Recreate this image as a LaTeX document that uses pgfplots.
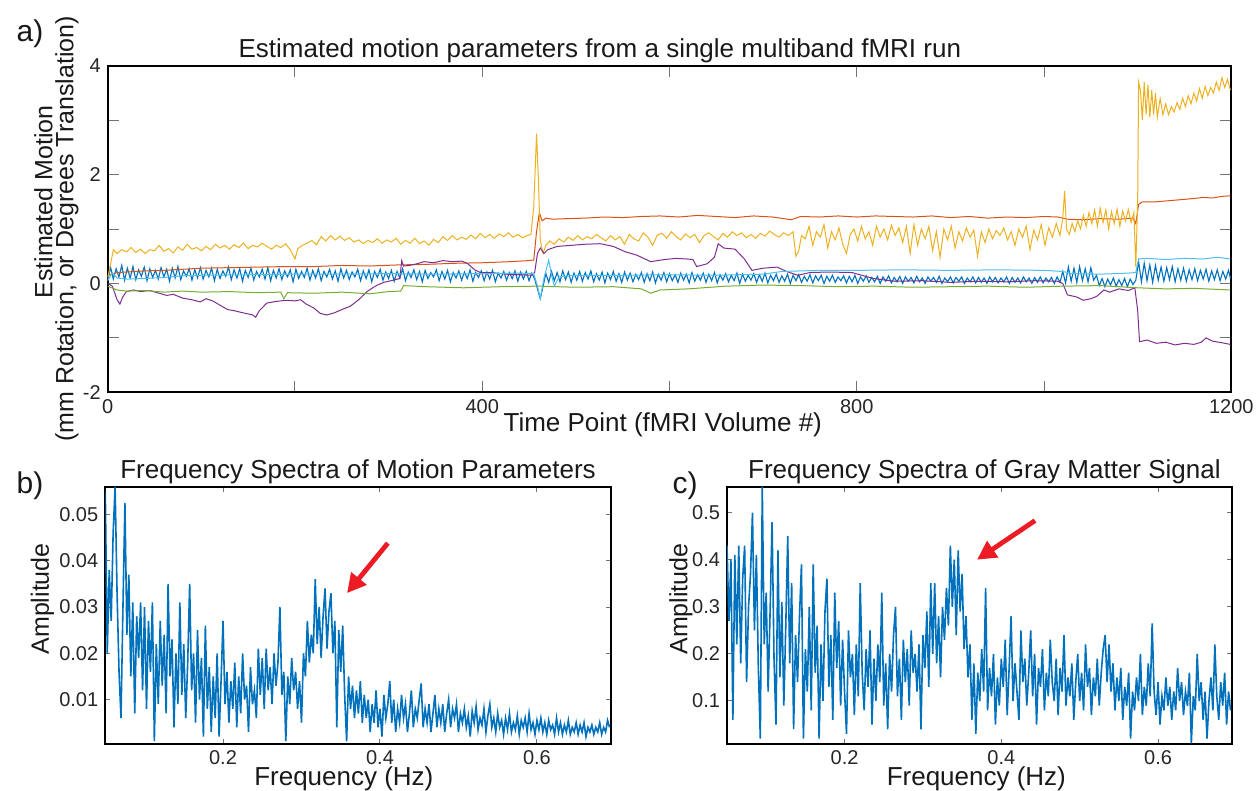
\documentclass[border=0pt]{standalone}
\usepackage{pgfplots}
\usepackage{pgfplotstable}
\pgfplotsset{compat=1.18}
\usepackage{fontspec}
\setmainfont{Liberation Sans}
\usetikzlibrary{arrows.meta}
\definecolor{mblue}{HTML}{0072BD}
\definecolor{mred}{HTML}{D95319}
\definecolor{myellow}{HTML}{EDB120}
\definecolor{mpurple}{HTML}{7E2F8E}
\definecolor{mgreen}{HTML}{77AC30}
\definecolor{mcyan}{HTML}{4DBEEE}
\definecolor{arrowred}{RGB}{237,28,36}

\pgfplotstableread{
f a
0.0500 0.0550
0.0525 0.0200
0.0550 0.0380
0.0575 0.0270
0.0600 0.0460
0.0625 0.0560
0.0650 0.0330
0.0675 0.0160
0.0700 0.0060
0.0725 0.0300
0.0750 0.0525
0.0775 0.0240
0.0800 0.0370
0.0825 0.0150
0.0850 0.0310
0.0875 0.0070
0.0900 0.0280
0.0925 0.0190
0.0950 0.0310
0.0975 0.0120
0.1000 0.0300
0.1025 0.0080
0.1050 0.0270
0.1075 0.0160
0.1100 0.0310
0.1125 0.0010
0.1150 0.0220
0.1175 0.0090
0.1200 0.0270
0.1225 0.0130
0.1250 0.0240
0.1275 0.0070
0.1300 0.0350
0.1325 0.0150
0.1350 0.0230
0.1375 0.0040
0.1400 0.0200
0.1425 0.0090
0.1450 0.0310
0.1475 0.0110
0.1500 0.0220
0.1525 0.0060
0.1550 0.0180
0.1575 0.0350
0.1600 0.0120
0.1625 0.0200
0.1650 0.0050
0.1675 0.0250
0.1700 0.0100
0.1725 0.0190
0.1750 0.0020
0.1775 0.0260
0.1800 0.0080
0.1825 0.0170
0.1850 0.0030
0.1875 0.0150
0.1900 0.0060
0.1925 0.0200
0.1950 0.0020
0.1975 0.0140
0.2000 0.0270
0.2025 0.0090
0.2050 0.0160
0.2075 0.0050
0.2100 0.0140
0.2125 0.0080
0.2150 0.0180
0.2175 0.0040
0.2200 0.0150
0.2225 0.0070
0.2250 0.0200
0.2275 0.0100
0.2300 0.0130
0.2325 0.0030
0.2350 0.0170
0.2375 0.0090
0.2400 0.0120
0.2425 0.0060
0.2450 0.0210
0.2475 0.0110
0.2500 0.0190
0.2525 0.0080
0.2550 0.0210
0.2575 0.0120
0.2600 0.0170
0.2625 0.0090
0.2650 0.0200
0.2675 0.0130
0.2700 0.0180
0.2725 0.0300
0.2750 0.0110
0.2775 0.0160
0.2800 0.0010
0.2825 0.0150
0.2850 0.0090
0.2875 0.0190
0.2900 0.0120
0.2925 0.0160
0.2950 0.0080
0.2975 0.0140
0.3000 0.0050
0.3025 0.0200
0.3050 0.0150
0.3075 0.0270
0.3100 0.0180
0.3125 0.0240
0.3150 0.0200
0.3175 0.0360
0.3200 0.0220
0.3225 0.0300
0.3250 0.0190
0.3275 0.0280
0.3300 0.0340
0.3325 0.0210
0.3350 0.0290
0.3375 0.0330
0.3400 0.0200
0.3425 0.0270
0.3450 0.0040
0.3475 0.0250
0.3500 0.0160
0.3525 0.0260
0.3550 0.0110
0.3575 0.0010
0.3600 0.0150
0.3625 0.0080
0.3650 0.0130
0.3675 0.0060
0.3700 0.0120
0.3725 0.0070
0.3750 0.0140
0.3775 0.0050
0.3800 0.0110
0.3825 0.0060
0.3850 0.0100
0.3875 0.0030
0.3900 0.0090
0.3925 0.0050
0.3950 0.0120
0.3975 0.0040
0.4000 0.0080
0.4025 0.0020
0.4050 0.0110
0.4075 0.0060
0.4100 0.0090
0.4125 0.0140
0.4150 0.0050
0.4175 0.0100
0.4200 0.0030
0.4225 0.0080
0.4250 0.0050
0.4275 0.0110
0.4300 0.0060
0.4325 0.0090
0.4350 0.0030
0.4375 0.0070
0.4400 0.0120
0.4425 0.0040
0.4450 0.0080
0.4475 0.0060
0.4500 0.0100
0.4525 0.0135
0.4550 0.0040
0.4575 0.0080
0.4600 0.0050
0.4625 0.0090
0.4650 0.0030
0.4675 0.0070
0.4700 0.0110
0.4725 0.0040
0.4750 0.0080
0.4775 0.0050
0.4800 0.0090
0.4825 0.0030
0.4850 0.0070
0.4875 0.0100
0.4900 0.0040
0.4925 0.0080
0.4950 0.0060
0.4975 0.0090
0.5000 0.0030
0.5025 0.0070
0.5050 0.0050
0.5075 0.0080
0.5100 0.0040
0.5125 0.0065
0.5150 0.0020
0.5175 0.0075
0.5200 0.0050
0.5225 0.0085
0.5250 0.0035
0.5275 0.0060
0.5300 0.0045
0.5325 0.0080
0.5350 0.0030
0.5375 0.0065
0.5400 0.0090
0.5425 0.0040
0.5450 0.0060
0.5475 0.0030
0.5500 0.0070
0.5525 0.0040
0.5550 0.0055
0.5575 0.0025
0.5600 0.0060
0.5625 0.0035
0.5650 0.0070
0.5675 0.0030
0.5700 0.0050
0.5725 0.0035
0.5750 0.0065
0.5775 0.0025
0.5800 0.0055
0.5825 0.0040
0.5850 0.0060
0.5875 0.0030
0.5900 0.0070
0.5925 0.0035
0.5950 0.0050
0.5975 0.0025
0.6000 0.0055
0.6025 0.0035
0.6050 0.0060
0.6075 0.0030
0.6100 0.0050
0.6125 0.0025
0.6150 0.0055
0.6175 0.0035
0.6200 0.0045
0.6225 0.0025
0.6250 0.0060
0.6275 0.0030
0.6300 0.0050
0.6325 0.0025
0.6350 0.0045
0.6375 0.0030
0.6400 0.0055
0.6425 0.0025
0.6450 0.0040
0.6475 0.0030
0.6500 0.0050
0.6525 0.0025
0.6550 0.0045
0.6575 0.0030
0.6600 0.0050
0.6625 0.0020
0.6650 0.0040
0.6675 0.0030
0.6700 0.0045
0.6725 0.0025
0.6750 0.0040
0.6775 0.0030
0.6800 0.0050
0.6825 0.0025
0.6850 0.0040
0.6875 0.0030
0.6900 0.0055
0.6925 0.0040
}\specb

\pgfplotstableread{
f a
0.0500 0.43
0.0525 0.27
0.0550 0.40
0.0575 0.06
0.0600 0.41
0.0625 0.22
0.0650 0.43
0.0675 0.18
0.0700 0.36
0.0725 0.43
0.0750 0.14
0.0775 0.30
0.0800 0.37
0.0825 0.50
0.0850 0.25
0.0875 0.41
0.0900 0.17
0.0925 0.02
0.0950 0.555
0.0975 0.22
0.1000 0.33
0.1025 0.12
0.1050 0.29
0.1075 0.48
0.1100 0.19
0.1125 0.05
0.1150 0.42
0.1175 0.15
0.1200 0.31
0.1225 0.09
0.1250 0.26
0.1275 0.45
0.1300 0.18
0.1325 0.35
0.1350 0.04
0.1375 0.24
0.1400 0.14
0.1425 0.28
0.1450 0.39
0.1475 0.02
0.1500 0.21
0.1525 0.12
0.1550 0.30
0.1575 0.08
0.1600 0.39
0.1625 0.16
0.1650 0.26
0.1675 0.02
0.1700 0.22
0.1725 0.10
0.1750 0.29
0.1775 0.36
0.1800 0.13
0.1825 0.24
0.1850 0.06
0.1875 0.33
0.1900 0.17
0.1925 0.27
0.1950 0.09
0.1975 0.23
0.2000 0.12
0.2025 0.03
0.2050 0.25
0.2075 0.15
0.2100 0.20
0.2125 0.07
0.2150 0.22
0.2175 0.11
0.2200 0.35
0.2225 0.16
0.2250 0.08
0.2275 0.21
0.2300 0.13
0.2325 0.25
0.2350 0.05
0.2375 0.19
0.2400 0.10
0.2425 0.22
0.2450 0.14
0.2475 0.33
0.2500 0.09
0.2525 0.18
0.2550 0.04
0.2575 0.20
0.2600 0.12
0.2625 0.24
0.2650 0.30
0.2675 0.11
0.2700 0.19
0.2725 0.06
0.2750 0.23
0.2775 0.14
0.2800 0.21
0.2825 0.09
0.2850 0.25
0.2875 0.16
0.2900 0.20
0.2925 0.12
0.2950 0.22
0.2975 0.04
0.3000 0.24
0.3025 0.17
0.3050 0.29
0.3075 0.13
0.3100 0.35
0.3125 0.20
0.3150 0.35
0.3175 0.18
0.3200 0.28
0.3225 0.15
0.3250 0.30
0.3275 0.23
0.3300 0.34
0.3325 0.26
0.3350 0.43
0.3375 0.30
0.3400 0.40
0.3425 0.24
0.3450 0.42
0.3475 0.29
0.3500 0.37
0.3525 0.21
0.3550 0.28
0.3575 0.15
0.3600 0.22
0.3625 0.06
0.3650 0.18
0.3675 0.03
0.3700 0.16
0.3725 0.10
0.3750 0.21
0.3775 0.12
0.3800 0.34
0.3825 0.08
0.3850 0.17
0.3875 0.11
0.3900 0.20
0.3925 0.05
0.3950 0.15
0.3975 0.09
0.4000 0.19
0.4025 0.13
0.4050 0.23
0.4075 0.07
0.4100 0.17
0.4125 0.28
0.4150 0.10
0.4175 0.18
0.4200 0.12
0.4225 0.06
0.4250 0.25
0.4275 0.14
0.4300 0.19
0.4325 0.09
0.4350 0.16
0.4375 0.25
0.4400 0.11
0.4425 0.20
0.4450 0.05
0.4475 0.17
0.4500 0.13
0.4525 0.21
0.4550 0.08
0.4575 0.16
0.4600 0.11
0.4625 0.23
0.4650 0.14
0.4675 0.10
0.4700 0.19
0.4725 0.07
0.4750 0.17
0.4775 0.12
0.4800 0.24
0.4825 0.09
0.4850 0.15
0.4875 0.11
0.4900 0.18
0.4925 0.06
0.4950 0.14
0.4975 0.20
0.5000 0.10
0.5025 0.16
0.5050 0.08
0.5075 0.22
0.5100 0.13
0.5125 0.17
0.5150 0.07
0.5175 0.15
0.5200 0.11
0.5225 0.19
0.5250 0.09
0.5275 0.16
0.5300 0.21
0.5325 0.24
0.5350 0.14
0.5375 0.22
0.5400 0.12
0.5425 0.18
0.5450 0.08
0.5475 0.15
0.5500 0.10
0.5525 0.17
0.5550 0.06
0.5575 0.13
0.5600 0.09
0.5625 0.16
0.5650 0.02
0.5675 0.12
0.5700 0.08
0.5725 0.15
0.5750 0.10
0.5775 0.20
0.5800 0.07
0.5825 0.13
0.5850 0.09
0.5875 0.18
0.5900 0.11
0.5925 0.265
0.5950 0.12
0.5975 0.07
0.6000 0.14
0.6025 0.05
0.6050 0.11
0.6075 0.08
0.6100 0.15
0.6125 0.09
0.6150 0.13
0.6175 0.06
0.6200 0.12
0.6225 0.08
0.6250 0.17
0.6275 0.10
0.6300 0.14
0.6325 0.07
0.6350 0.12
0.6375 0.09
0.6400 0.16
0.6425 0.01
0.6450 0.11
0.6475 0.08
0.6500 0.20
0.6525 0.10
0.6550 0.14
0.6575 0.06
0.6600 0.12
0.6625 0.02
0.6650 0.10
0.6675 0.15
0.6700 0.08
0.6725 0.22
0.6750 0.11
0.6775 0.06
0.6800 0.14
0.6825 0.09
0.6850 0.16
0.6875 0.05
0.6900 0.12
0.6925 0.08
}\specc

\pgfplotsset{
  every axis title shift=0pt,
  myax/.style={
    scale only axis,
    scaled ticks=false,
    axis line style={black, line width=0.9pt},
    tick align=inside,
    tick style={black!55, line width=0.5pt},
    ticklabel style={font=\fontsize{10}{12}\selectfont, text=black!85},
    label style={font=\fontsize{12.5}{14}\selectfont, text=black!90},
    title style={font=\fontsize{12.5}{14}\selectfont, text=black!90},
    /pgf/number format/assume math mode=true,
  },
  specax/.style={
    xticklabel style={inner sep=0pt, yshift=-2.9pt},
    xlabel style={inner sep=0pt, yshift=-17.4pt, anchor=center, font=\fontsize{13}{15}\selectfont},
  },
}

\begin{document}
\begin{tikzpicture}
\useasboundingbox (0pt,0pt) rectangle (630pt,-395.5pt);

% ---------------- panel a ----------------
\begin{axis}[myax,
  at={(53.85pt,-196.15pt)}, anchor=south west,
  width=561.8pt, height=163.3pt,
  xmin=0, xmax=1200, ymin=-2, ymax=4,
  xtick={0,200,...,1200}, xticklabels={0,,400,,800,,1200},
  ytick={-2,-1,...,4}, yticklabels={-2,,0,,2,,4},
  major tick length=5.5pt,
  title={Estimated motion parameters from a single multiband fMRI run},
  title style={at={(axis description cs:0.438,1)}, anchor=base, yshift=4.3pt, font=\fontsize{13}{15}\selectfont},
  xlabel={Time Point (fMRI Volume \#)},
  xlabel style={at={(axis description cs:0.494,0)}, anchor=center, yshift=-16.3pt, font=\fontsize{13}{15}\selectfont},
  ylabel={\hspace*{27pt}Estimated Motion\\(mm Rotation, or Degrees Translation)},
  ylabel style={at={(axis description cs:0,0.5)}, anchor=center, yshift=25.6pt, align=center, font=\fontsize{12.5}{10.5}\selectfont},
  every axis plot/.append style={line width=0.5pt},
]
\addplot[mblue, line width=0.55pt] coordinates {
(0,0.05)(3,0.30)(6,0.08)(9,0.27)(12,0.12)(15,0.33)(18,0.06)(21,0.28)(24,0.10)(27,0.31)(30,0.07)(33,0.25)(36,0.13)(39,0.30)(42,0.05)(45,0.27)(48,0.11)(51,0.24)(54,0.08)(57,0.29)(60,0.12)(63,0.26)(66,0.04)(69,0.28)(72,0.10)(75,0.31)(78,0.07)(81,0.23)(84,0.13)(87,0.27)(90,0.06)(93,0.25)(96,0.10)(99,0.29)(102,0.08)(105,0.24)(108,0.12)(111,0.28)(114,0.05)(117,0.26)(120,0.09)(123,0.23)(126,0.13)(129,0.30)(132,0.07)(135,0.25)(138,0.10)(141,0.27)(144,0.04)(147,0.24)(150,0.11)(153,0.28)(156,0.06)(159,0.22)(162,0.12)(165,0.26)(168,0.08)(171,0.29)(174,0.05)(177,0.24)(180,0.10)(183,0.27)(186,0.07)(189,0.23)(192,0.12)(195,0.25)(198,0.03)(201,0.26)(204,0.09)(207,0.22)(210,0.11)(213,0.28)(216,0.06)(219,0.24)(222,0.10)(225,0.27)(228,0.05)(231,0.22)(234,0.12)(237,0.26)(240,0.08)(243,0.23)(246,0.04)(249,0.27)(252,0.10)(255,0.24)(258,0.07)(261,0.21)(264,0.12)(267,0.26)(270,0.05)(273,0.23)(276,0.09)(279,0.25)(282,0.03)(285,0.22)(288,0.11)(291,0.26)(294,0.06)(297,0.21)(300,0.09)(303,0.24)(306,0.04)(309,0.22)(312,0.10)(315,0.27)(318,0.05)(321,0.21)(324,0.11)(327,0.25)(330,0.07)(333,0.22)(336,0.03)(339,0.24)(342,0.09)(345,0.20)(348,0.12)(351,0.25)(354,0.05)(357,0.22)(360,0.08)(363,0.24)(366,0.03)(369,0.20)(372,0.10)(375,0.23)(378,0.06)(381,0.21)(384,0.09)(387,0.25)(390,0.04)(393,0.20)(396,0.11)(399,0.23)(402,0.05)(405,0.21)(408,0.08)(411,0.24)(414,0.03)(417,0.19)(420,0.10)(423,0.22)(426,0.06)(429,0.20)(432,0.09)(435,0.23)(438,0.04)(441,0.21)(444,0.08)(447,0.22)(450,0.05)(453,0.19)(456,0.08)(459,-0.10)(462,-0.28)(465,-0.05)(468,0.18)(471,0.02)(474,0.22)(477,0.05)(480,0.20)(483,0.03)(486,0.23)(489,0.07)(492,0.21)(495,0.02)(498,0.19)(501,0.06)(504,0.22)(507,0.04)(510,0.20)(513,0.08)(516,0.23)(519,0.03)(522,0.18)(525,0.06)(528,0.21)(531,0.01)(534,0.19)(537,0.07)(540,0.22)(543,0.04)(546,0.18)(549,0.02)(552,0.21)(555,0.06)(558,0.19)(561,0.03)(564,0.17)(567,0.07)(570,0.20)(573,0.02)(576,0.18)(579,0.05)(582,0.21)(585,0.01)(588,0.17)(591,0.06)(594,0.20)(597,0.03)(600,0.18)(603,0.05)(606,0.16)(609,0.02)(612,0.19)(615,0.06)(618,0.17)(621,0.01)(624,0.20)(627,0.04)(630,0.16)(633,0.06)(636,0.19)(639,0.02)(642,0.17)(645,0.05)(648,0.20)(651,0.01)(654,0.16)(657,0.06)(660,0.18)(663,0.03)(666,0.15)(669,0.05)(672,0.19)(675,0.00)(678,0.17)(681,0.04)(684,0.15)(687,0.06)(690,0.18)(693,0.02)(696,0.16)(699,0.04)(702,0.19)(705,0.01)(708,0.15)(711,0.05)(714,0.17)(717,0.02)(720,0.14)(723,0.04)(726,0.17)(729,0.00)(732,0.15)(735,0.05)(738,0.16)(741,0.02)(744,0.13)(747,0.04)(750,0.16)(753,0.01)(756,0.14)(759,0.05)(762,0.15)(765,0.00)(768,0.13)(771,0.04)(774,0.15)(777,0.02)(780,0.12)(783,0.05)(786,0.14)(789,0.01)(792,0.13)(795,0.03)(798,0.15)(801,0.00)(804,0.12)(807,0.04)(810,0.14)(813,0.02)(816,0.11)(819,0.03)(822,0.13)(825,0.00)(828,0.12)(831,0.04)(834,0.14)(837,0.01)(840,0.11)(843,0.03)(846,0.13)(849,0.00)(852,0.12)(855,0.04)(858,0.11)(861,0.01)(864,0.13)(867,0.03)(870,0.10)(873,0.00)(876,0.12)(879,0.04)(882,0.11)(885,0.02)(888,0.13)(891,0.00)(894,0.10)(897,0.03)(900,0.12)(903,0.01)(906,0.11)(909,0.04)(912,0.12)(915,0.00)(918,0.10)(921,0.03)(924,0.12)(927,0.01)(930,0.11)(933,0.02)(936,0.10)(939,0.00)(942,0.12)(945,0.03)(948,0.11)(951,0.01)(954,0.10)(957,0.03)(960,0.12)(963,0.00)(966,0.11)(969,0.02)(972,0.10)(975,0.01)(978,0.12)(981,0.03)(984,0.10)(987,0.00)(990,0.11)(993,0.02)(996,0.12)(999,0.01)(1002,0.10)(1005,0.03)(1008,0.11)(1011,0.00)(1014,0.12)(1017,0.02)(1020,0.22)(1023,0.01)(1026,0.30)(1029,0.04)(1032,0.28)(1035,0.02)(1038,0.31)(1041,0.05)(1044,0.27)(1047,0.03)(1050,0.29)(1053,0.06)(1056,0.15)(1059,-0.04)(1062,0.09)(1065,-0.06)(1068,0.08)(1071,-0.03)(1074,0.10)(1077,-0.05)(1080,0.07)(1083,-0.04)(1086,0.09)(1089,-0.06)(1092,0.08)(1095,-0.02)(1098,0.06)(1101,0.40)(1104,0.03)(1107,0.37)(1110,0.05)(1113,0.34)(1116,0.02)(1119,0.33)(1122,0.06)(1125,0.30)(1128,0.04)(1131,0.29)(1134,0.07)(1137,0.31)(1140,0.03)(1143,0.27)(1146,0.06)(1149,0.28)(1152,0.04)(1155,0.25)(1158,0.07)(1161,0.27)(1164,0.05)(1167,0.24)(1170,0.08)(1173,0.26)(1176,0.04)(1179,0.23)(1182,0.07)(1185,0.25)(1188,0.05)(1191,0.22)(1194,0.08)(1197,0.24)(1199,0.10)
};
\addplot[mred] coordinates {
(0,0.15)(10,0.20)(20,0.21)(40,0.23)(60,0.24)(80,0.26)(100,0.28)(130,0.29)(160,0.30)(190,0.31)(220,0.31)(250,0.33)(280,0.32)(310,0.34)(340,0.35)(370,0.37)(400,0.38)(430,0.40)(450,0.42)(455,0.43)(458,0.95)(461,1.30)(464,1.15)(468,1.20)(475,1.18)(490,1.19)(510,1.20)(530,1.22)(550,1.21)(570,1.23)(590,1.24)(610,1.22)(630,1.25)(650,1.23)(670,1.21)(690,1.24)(710,1.22)(730,1.17)(740,1.23)(760,1.22)(780,1.24)(800,1.22)(820,1.24)(840,1.23)(860,1.22)(880,1.24)(900,1.21)(920,1.23)(940,1.20)(960,1.22)(980,1.21)(1000,1.23)(1015,1.22)(1025,1.18)(1040,1.17)(1060,1.19)(1080,1.18)(1095,1.20)(1098,1.10)(1101,1.45)(1105,1.50)(1120,1.50)(1140,1.53)(1160,1.56)(1170,1.58)(1180,1.57)(1190,1.60)(1199,1.61)
};
\addplot[myellow] coordinates {
(0,0.10)(3,0.35)(6,0.62)(10,0.55)(15,0.62)(20,0.58)(25,0.66)(30,0.57)(35,0.63)(40,0.55)(45,0.62)(50,0.60)(55,0.70)(60,0.59)(65,0.64)(70,0.56)(75,0.67)(80,0.61)(85,0.72)(90,0.63)(95,0.66)(100,0.60)(105,0.68)(110,0.62)(115,0.72)(120,0.65)(125,0.70)(130,0.63)(135,0.71)(140,0.66)(145,0.74)(150,0.64)(155,0.70)(160,0.67)(165,0.74)(170,0.68)(175,0.63)(180,0.70)(185,0.66)(190,0.73)(195,0.62)(200,0.45)(203,0.64)(208,0.70)(213,0.74)(218,0.79)(223,0.71)(228,0.86)(233,0.78)(238,0.88)(243,0.80)(248,0.87)(253,0.79)(258,0.84)(263,0.76)(268,0.80)(273,0.73)(278,0.79)(283,0.75)(288,0.82)(293,0.74)(298,0.80)(303,0.76)(308,0.83)(313,0.72)(318,0.79)(323,0.74)(328,0.83)(333,0.73)(338,0.78)(343,0.70)(348,0.81)(353,0.75)(358,0.86)(363,0.79)(368,0.88)(373,0.80)(378,0.85)(383,0.81)(388,0.89)(393,0.82)(398,0.92)(403,0.84)(408,0.90)(413,0.83)(418,0.91)(423,0.86)(428,0.93)(433,0.85)(438,0.90)(443,0.84)(448,0.88)(452,0.90)(455,1.40)(458,2.75)(460,1.90)(462,0.80)(465,0.55)(468,0.70)(472,0.78)(477,0.72)(482,0.82)(487,0.76)(492,0.85)(497,0.79)(502,0.88)(507,0.80)(512,0.86)(517,0.82)(522,0.90)(527,0.84)(532,0.78)(537,0.88)(542,0.80)(547,0.86)(552,0.72)(557,0.90)(562,0.82)(567,0.78)(572,0.93)(577,0.85)(582,0.70)(587,0.89)(592,0.92)(597,0.83)(602,0.95)(607,0.86)(612,0.80)(617,0.91)(622,0.84)(627,0.90)(632,0.75)(637,0.88)(642,0.93)(647,0.86)(652,0.80)(657,0.92)(662,0.85)(667,0.95)(672,0.88)(677,0.93)(682,0.84)(687,0.90)(692,0.83)(697,0.92)(702,0.87)(707,0.96)(712,0.90)(717,0.85)(722,0.93)(727,0.88)(732,0.95)(735,0.50)(738,0.60)(741,0.88)(745,0.82)(749,1.05)(753,0.70)(757,0.95)(761,0.85)(765,1.08)(769,0.65)(773,0.95)(777,0.80)(781,1.02)(785,0.72)(789,0.55)(793,0.90)(797,1.00)(801,0.78)(805,1.05)(809,0.82)(813,0.95)(817,0.70)(821,1.05)(825,0.85)(829,1.00)(833,0.80)(837,1.07)(841,0.88)(845,1.02)(849,0.75)(853,1.05)(857,0.55)(861,1.08)(865,0.70)(869,1.00)(873,0.82)(877,1.05)(881,0.60)(885,0.95)(889,0.48)(893,1.00)(897,0.80)(901,1.05)(905,0.65)(909,0.95)(913,0.78)(917,1.02)(921,0.85)(925,0.98)(929,0.50)(933,0.95)(937,0.75)(941,1.00)(945,0.82)(949,0.97)(953,0.88)(957,1.02)(961,0.80)(965,0.95)(969,0.70)(973,1.00)(977,0.85)(981,1.05)(985,0.62)(989,0.98)(993,0.80)(997,1.08)(1001,0.70)(1005,1.02)(1009,0.85)(1013,1.10)(1017,0.88)(1020,1.20)(1022,1.70)(1024,1.00)(1027,0.90)(1030,1.10)(1033,0.95)(1036,1.15)(1039,1.00)(1042,1.25)(1045,1.05)(1048,1.30)(1051,1.10)(1054,1.35)(1057,1.05)(1060,1.38)(1063,1.12)(1066,1.35)(1069,1.00)(1072,1.32)(1075,1.10)(1078,1.36)(1081,1.05)(1084,1.33)(1087,1.15)(1090,1.36)(1093,1.12)(1096,1.30)(1098,0.30)(1100,1.50)(1101,3.70)(1103,3.55)(1105,3.00)(1107,3.70)(1109,3.10)(1111,3.65)(1113,3.05)(1115,3.55)(1117,3.10)(1119,3.50)(1121,3.05)(1124,3.40)(1127,3.10)(1130,3.30)(1133,3.10)(1136,3.25)(1139,3.15)(1142,3.32)(1145,3.20)(1148,3.40)(1151,3.25)(1154,3.45)(1157,3.30)(1160,3.50)(1163,3.35)(1166,3.58)(1169,3.40)(1172,3.62)(1175,3.45)(1178,3.60)(1181,3.50)(1184,3.70)(1187,3.55)(1190,3.78)(1193,3.60)(1196,3.75)(1199,3.55)
};
\addplot[mpurple] coordinates {
(0,0.00)(5,-0.05)(10,-0.30)(13,-0.38)(16,-0.25)(20,-0.15)(28,-0.12)(35,-0.15)(45,-0.13)(55,-0.18)(63,-0.22)(70,-0.20)(80,-0.27)(90,-0.30)(99,-0.34)(105,-0.28)(112,-0.32)(120,-0.40)(128,-0.48)(135,-0.50)(142,-0.53)(150,-0.56)(155,-0.58)(158,-0.62)(162,-0.50)(170,-0.36)(180,-0.33)(190,-0.31)(200,-0.32)(206,-0.30)(212,-0.38)(220,-0.45)(227,-0.55)(234,-0.58)(242,-0.54)(250,-0.48)(259,-0.42)(268,-0.30)(277,-0.15)(283,-0.08)(288,-0.03)(295,0.02)(305,0.06)(312,0.09)(314,0.42)(316,0.32)(322,0.33)(330,0.36)(338,0.40)(348,0.38)(358,0.42)(368,0.40)(378,0.41)(384,0.37)(392,0.25)(398,0.20)(410,0.20)(425,0.17)(440,0.16)(452,0.15)(456,0.20)(459,0.55)(462,0.65)(466,0.55)(470,0.62)(480,0.68)(495,0.70)(510,0.72)(526,0.73)(540,0.68)(553,0.58)(565,0.52)(580,0.40)(595,0.44)(607,0.46)(618,0.45)(625,0.44)(629,0.31)(640,0.36)(648,0.48)(652,0.73)(658,0.65)(670,0.63)(680,0.45)(688,0.24)(700,0.28)(715,0.30)(725,0.22)(737,0.15)(750,0.20)(770,0.21)(795,0.20)(818,0.09)(840,0.04)(870,0.05)(900,0.02)(930,0.04)(960,0.03)(990,0.05)(1015,0.04)(1020,0.00)(1025,-0.21)(1035,-0.25)(1042,-0.31)(1050,-0.28)(1056,-0.24)(1064,-0.12)(1070,-0.16)(1080,-0.10)(1090,-0.13)(1097,-0.08)(1100,-0.50)(1102,-1.07)(1110,-1.04)(1120,-1.10)(1130,-1.08)(1140,-1.13)(1150,-1.10)(1160,-1.12)(1168,-1.08)(1173,-1.00)(1180,-1.06)(1190,-1.09)(1199,-1.12)
};
\addplot[mgreen] coordinates {
(0,-0.05)(10,-0.12)(20,-0.14)(40,-0.13)(60,-0.16)(80,-0.14)(100,-0.16)(130,-0.15)(160,-0.17)(185,-0.16)(188,-0.28)(192,-0.17)(220,-0.18)(250,-0.16)(280,-0.19)(300,-0.15)(313,-0.14)(316,-0.04)(340,-0.06)(380,-0.08)(420,-0.06)(460,-0.05)(500,-0.07)(540,-0.06)(570,-0.10)(580,-0.18)(590,-0.12)(620,-0.10)(660,-0.05)(700,-0.03)(740,-0.04)(780,-0.06)(820,-0.05)(860,-0.07)(900,-0.06)(940,-0.05)(980,-0.07)(1020,-0.05)(1060,-0.04)(1100,-0.08)(1130,-0.10)(1160,-0.09)(1199,-0.12)
};
\addplot[mcyan] coordinates {
(0,0.05)(5,0.20)(10,0.10)(20,0.08)(40,0.09)(60,0.11)(80,0.14)(100,0.15)(150,0.16)(200,0.17)(250,0.17)(300,0.18)(350,0.17)(400,0.18)(440,0.19)(455,0.18)(459,-0.05)(462,-0.28)(466,0.10)(471,0.43)(474,0.15)(477,-0.05)(482,0.12)(500,0.15)(550,0.15)(600,0.16)(650,0.15)(700,0.17)(720,0.22)(760,0.24)(800,0.24)(850,0.25)(900,0.24)(950,0.25)(1000,0.24)(1020,0.22)(1030,0.18)(1060,0.17)(1090,0.19)(1098,0.20)(1101,0.45)(1110,0.46)(1130,0.44)(1150,0.46)(1170,0.45)(1185,0.48)(1199,0.45)
};
\end{axis}

% ---------------- panel b ----------------
\begin{axis}[myax, specax,
  at={(52.65pt,-372pt)}, anchor=south west,
  width=252.7pt, height=128.65pt,
  xmin=0.05, xmax=0.694, ymin=0.0004, ymax=0.056,
  xtick={0.2,0.4,0.6}, xticklabels={0.2,0.4,0.6},
  ytick={0.01,0.02,0.03,0.04,0.05}, yticklabels={0.01,0.02,0.03,0.04,0.05},
  major tick length=2.5pt,
  title={Frequency Spectra of Motion Parameters},
  title style={at={(axis description cs:0.5,1)}, anchor=base, yshift=4.3pt, font=\fontsize{13}{15}\selectfont},
  xlabel={Frequency (Hz)},
  xlabel style={at={(axis description cs:0.472,0)}},
  ylabel={Amplitude},
  ylabel style={at={(axis description cs:0,0.564)}, anchor=center, yshift=31.5pt},
]
\addplot[mblue, line width=0.8pt] table[x=f, y=a] {\specb};
\draw[arrowred, line width=2.4pt, -{Triangle[length=9.5pt,width=9.5pt]}] (axis cs:0.410,0.0438) -- (axis cs:0.358,0.0330);
\end{axis}

% ---------------- panel c ----------------
\begin{axis}[myax, specax,
  at={(363.5pt,-372.15pt)}, anchor=south west,
  width=252.35pt, height=128.8pt,
  xmin=0.05, xmax=0.694, ymin=0.008, ymax=0.555,
  xtick={0.2,0.4,0.6}, xticklabels={0.2,0.4,0.6},
  ytick={0.1,0.2,0.3,0.4,0.5}, yticklabels={0.1,0.2,0.3,0.4,0.5},
  major tick length=2.5pt,
  title={Frequency Spectra of Gray Matter Signal},
  title style={at={(axis description cs:0.51,1)}, anchor=base, yshift=4.3pt, font=\fontsize{13}{15}\selectfont},
  xlabel={Frequency (Hz)},
  xlabel style={at={(axis description cs:0.494,0)}},
  ylabel={Amplitude},
  ylabel style={at={(axis description cs:0,0.564)}, anchor=center, yshift=23pt},
]
\addplot[mblue, line width=0.8pt] table[x=f, y=a] {\specc};
\draw[arrowred, line width=2.4pt, -{Triangle[length=9.5pt,width=9.5pt]}] (axis cs:0.443,0.483) -- (axis cs:0.369,0.400);
\end{axis}

\node[font=\fontsize{15}{18}\selectfont, text=black!90] at (15pt,-17pt) {a)};
\node[font=\fontsize{15}{18}\selectfont, text=black!90] at (15pt,-243pt) {b)};
\node[font=\fontsize{15}{18}\selectfont, text=black!90] at (342.5pt,-243pt) {c)};
\end{tikzpicture}
\end{document}
